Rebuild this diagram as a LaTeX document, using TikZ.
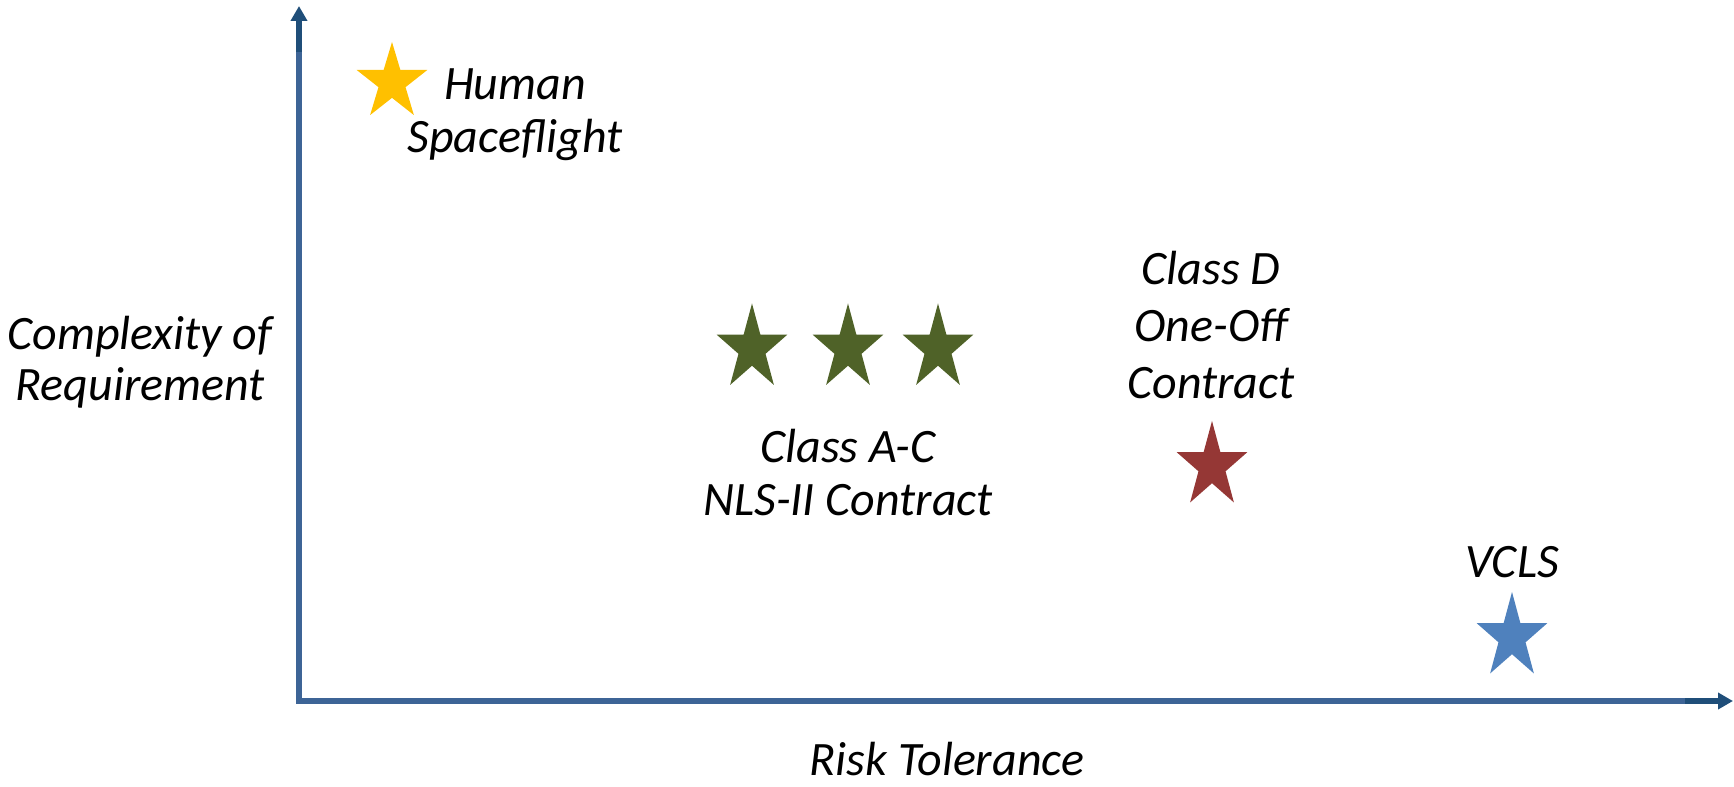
\documentclass[tikz,border=0pt]{standalone}
\usepackage{fontspec}
\setmainfont{Carlito}
\usetikzlibrary{shapes.geometric, arrows.meta}

\definecolor{axisblue}{RGB}{61,100,150}
\definecolor{axisdark}{RGB}{31,78,121}
\definecolor{staryellow}{RGB}{255,192,0}
\definecolor{stargreen}{RGB}{79,98,40}
\definecolor{starred}{RGB}{149,55,53}
\definecolor{starblue}{RGB}{79,129,189}

\begin{document}
\begin{tikzpicture}[
        x=0.02cm, y=-0.02cm,
        axisline/.style={draw=axisblue, line width=0.11cm},
        axistip/.style={draw=axisdark, line width=0.11cm, -{Triangle[length=0.3cm, width=0.32cm]}},
        starnode/.style={star, star points=5, star point ratio=2.618, inner sep=0pt, minimum size=1.49cm, draw=none},
        lbl/.style={font=\fontsize{27.3}{#1}\selectfont\itshape, align=center, anchor=base, inner sep=0pt},
        lbl/.default=29.6pt
    ]

    \useasboundingbox (0,0) rectangle (1734,787);

    % Axes
    \coordinate (origin) at (299,701);
    \coordinate (ydark) at (299,52);
    \coordinate (ytip) at (299,6);
    \coordinate (xdark) at (1685,701);
    \coordinate (xtip) at (1733,701);
    \draw[axisline] (ydark) -- (origin) -- (xdark);
    \draw[axistip] (ydark) -- (ytip);
    \draw[axistip] (xdark) -- (xtip);

    % Stars
    \node[starnode, fill=staryellow, yscale=1.085] (hsf) at (392,82.4) {};
    \node[starnode, fill=stargreen, yscale=1.21] (ac1) at (752,348.5) {};
    \node[starnode, fill=stargreen, yscale=1.21] (ac2) at (848,348.5) {};
    \node[starnode, fill=stargreen, yscale=1.21] (ac3) at (938,348.5) {};
    \node[starnode, fill=starred, yscale=1.21] (cld) at (1212,466) {};
    \node[starnode, fill=starblue, yscale=1.21] (vcls) at (1512,637) {};

    % Labels
    \node[lbl=30.2pt] (hsflbl) at (515,153) {Human\\Spaceflight};
    \node[lbl=28.5pt] (ylbl) at (140,400) {Complexity of\\Requirement};
    \node[lbl=29.6pt] (aclbl) at (848,515) {Class A-C\\NLS-II Contract};
    \node[lbl=32.4pt] (cdlbl) at (1211,398) {Class D\\One-Off\\Contract};
    \node[lbl] (vclslbl) at (1512,577) {VCLS};
    \node[lbl] (xlbl) at (947,775) {Risk Tolerance};

\end{tikzpicture}
\end{document}
